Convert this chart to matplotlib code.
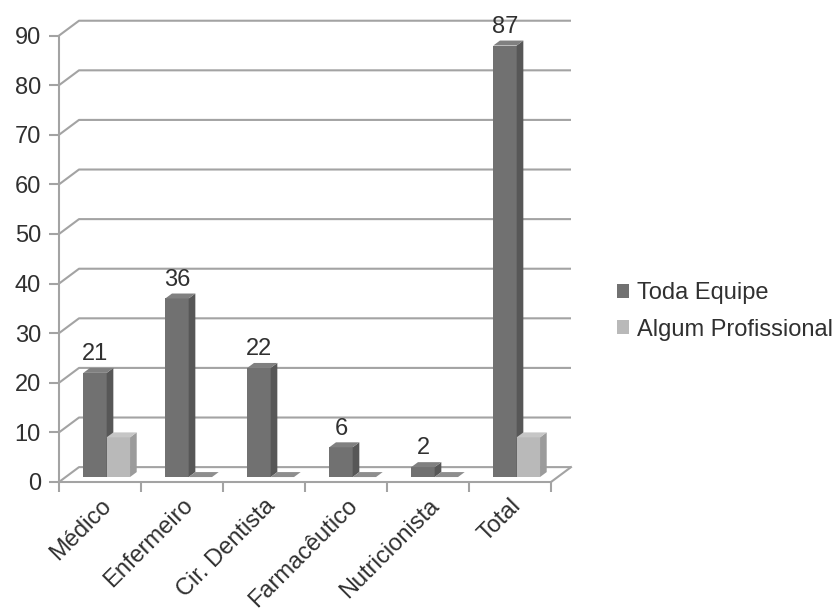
import matplotlib
matplotlib.use("Agg")
import matplotlib.pyplot as plt
from matplotlib.patches import Polygon, Patch

plt.rcParams['font.family'] = ['Liberation Sans', 'DejaVu Sans']

categories = ['Médico', 'Enfermeiro', 'Cir. Dentista', 'Farmacêutico', 'Nutricionista', 'Total']
toda_equipe = [21, 36, 22, 6, 2, 87]
algum_profissional = [8, 0, 0, 0, 0, 8]
series_names = ['Toda Equipe', 'Algum Profissional']
yticks = list(range(0, 91, 10))

# oblique depth of the floor / walls (data units)
DX, DY = 0.244, 3.0
F0, F1 = 1 / 3, 2 / 3          # bar depth band
BAR_W = 0.285
FS = 17

dark = dict(front='#717171', side='#575757', top='#808080')
light = dict(front='#b9b9b9', side='#9b9b9b', top='#c6c6c6')
zero_top = '#8e8e8e'
grid_c = '#a3a3a3'
text_c = '#303030'

W, H = 838, 609
fig = plt.figure(figsize=(W / 100, H / 100), dpi=100)
fig.patch.set_facecolor('white')

n = len(categories)
px_left, px_right = 59, 59 + 82 * n + 20
px_bottom, px_top = 482, 482 - 93 * 4.96
ax = fig.add_axes([px_left / W, 1 - px_bottom / H,
                   (px_right - px_left) / W, (px_bottom - px_top) / H])
ax.set_xlim(0, n + DX)
ax.set_ylim(0, 90 + DY)
ax.set_facecolor('white')

# walls: back gridlines and side-wall diagonals
for v in yticks:
    ax.plot([0, DX, n + DX], [v, v + DY, v + DY], color=grid_c, lw=1.5,
            clip_on=False, zorder=1, solid_capstyle='butt')
# floor edges
ax.plot([n, n + DX], [0, DY], color=grid_c, lw=1.5, clip_on=False, zorder=1)

for s in ['top', 'right']:
    ax.spines[s].set_visible(False)
for s in ['left', 'bottom']:
    ax.spines[s].set_color(grid_c)
    ax.spines[s].set_linewidth(1.5)
ax.spines['left'].set_bounds(0, 90)
ax.spines['bottom'].set_bounds(0, n)


def draw_bar(x0, v, col, z):
    fx, fy = F0 * DX, F0 * DY
    bx, by = F1 * DX, F1 * DY
    if v > 0:
        ax.bar(x0 + fx, v, width=BAR_W, bottom=fy, align='edge',
               color=col['front'], zorder=z, linewidth=0)
        side = [(x0 + BAR_W + fx, fy), (x0 + BAR_W + bx, by),
                (x0 + BAR_W + bx, by + v), (x0 + BAR_W + fx, fy + v)]
        ax.add_patch(Polygon(side, closed=True, facecolor=col['side'],
                             edgecolor='none', zorder=z))
        top_c = col['top']
    else:
        top_c = zero_top
    top = [(x0 + fx, fy + v), (x0 + BAR_W + fx, fy + v),
           (x0 + BAR_W + bx, by + v), (x0 + bx, by + v)]
    ax.add_patch(Polygon(top, closed=True, facecolor=top_c,
                         edgecolor='none', zorder=z))


for i in range(n):
    x_dark = i + 0.5 - BAR_W
    x_light = i + 0.5
    draw_bar(x_dark, toda_equipe[i], dark, 3 + 2 * i)
    draw_bar(x_light, algum_profissional[i], light, 4 + 2 * i)
    ax.annotate(str(toda_equipe[i]),
                xy=(x_dark + F0 * DX + BAR_W / 2, F1 * DY + toda_equipe[i]),
                xytext=(0, 2), textcoords='offset points',
                ha='center', va='bottom', fontsize=FS, color=text_c,
                zorder=30)

# axes ticks
ax.set_yticks(yticks)
ax.set_yticklabels([str(v) for v in yticks])
ax.tick_params(axis='y', length=7, width=1.5, color=grid_c, pad=6,
               labelsize=FS, labelcolor=text_c)
ax.set_xticks([i + 0.5 for i in range(n)])
ax.set_xticklabels(categories, rotation=45, ha='right',
                   rotation_mode='anchor')
ax.set_xticks(range(n + 1), minor=True)
ax.tick_params(axis='x', which='major', length=0, pad=9,
               labelsize=FS, labelcolor=text_c)
ax.tick_params(axis='x', which='minor', length=7, width=1.5, color=grid_c)

handles = [Patch(facecolor=dark['front'], edgecolor='none'),
           Patch(facecolor=light['front'], edgecolor='none')]
fig.legend(handles, series_names, loc='center left',
           bbox_to_anchor=(617 / W, 1 - 311.5 / H), frameon=False,
           fontsize=FS, handlelength=0.5, handleheight=0.5,
           handletextpad=0.35, labelspacing=0.6, borderpad=0,
           borderaxespad=0, labelcolor=text_c)

fig.savefig('out.png', dpi=100, facecolor='white')
